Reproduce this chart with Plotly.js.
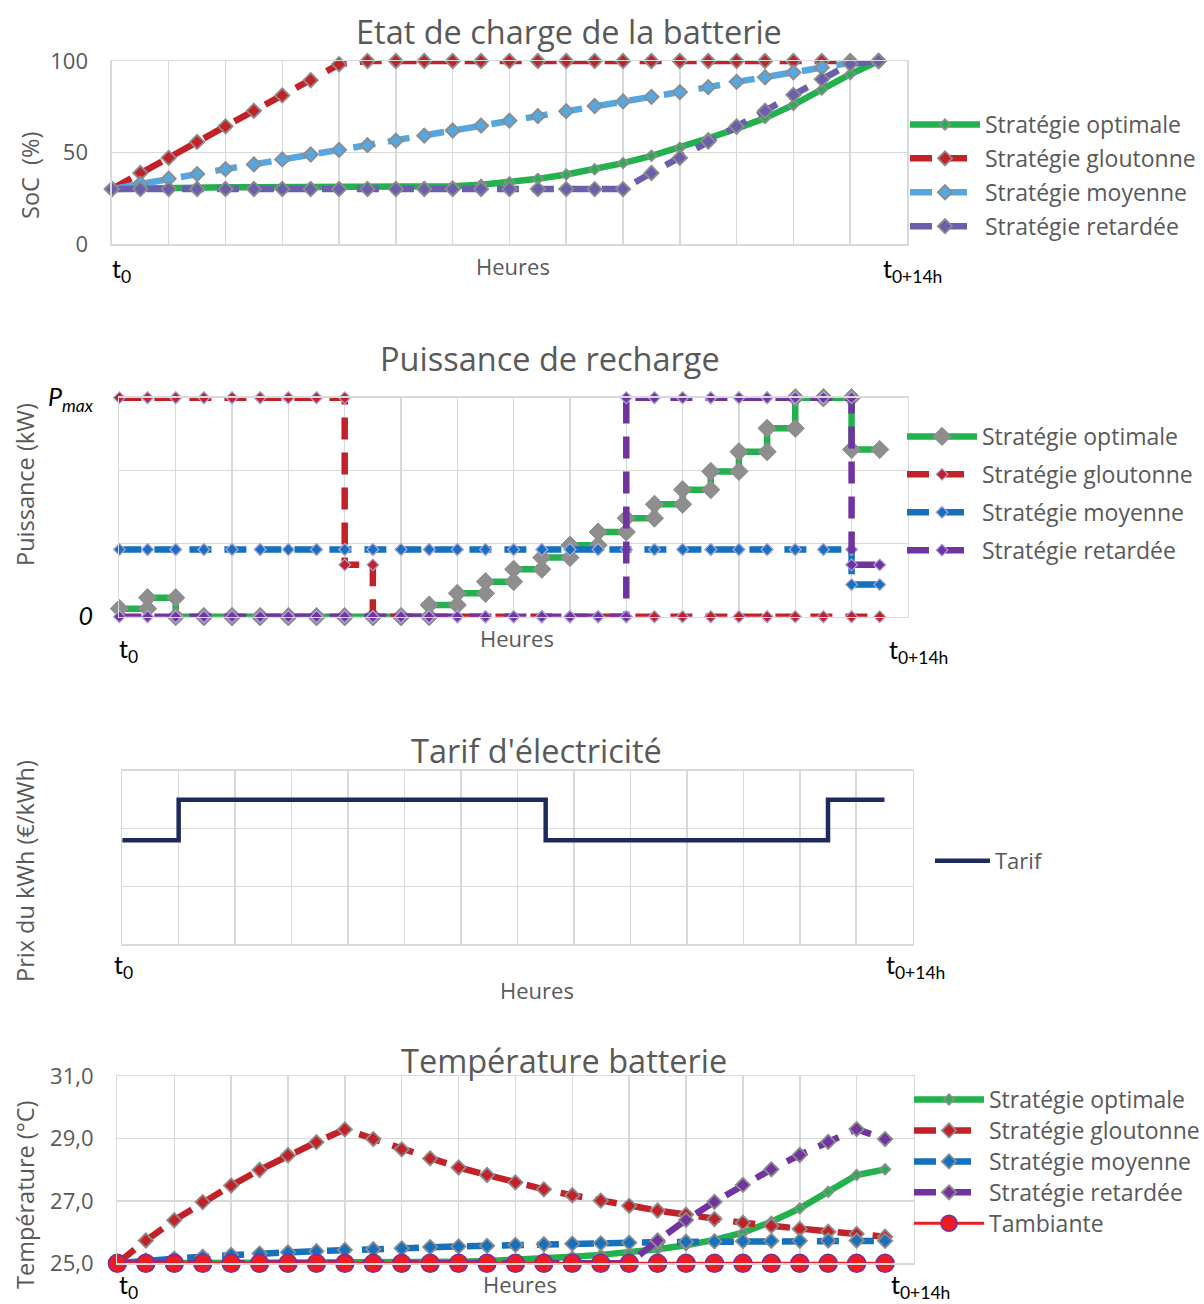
<!DOCTYPE html>
<html><head><meta charset="utf-8">
<script src="https://cdn.plot.ly/plotly-3.0.1.min.js"></script>
<style>html,body{margin:0;padding:0;background:#fff;overflow:hidden}</style>
</head><body><div id="chart" style="width:1204px;height:1304px"></div>
<script>
// ---- Time axis (hours after t0) ----
const hours = [0,0.5,1,1.5,2,2.5,3,3.5,4,4.5,5,5.5,6,6.5,7,7.5,8,8.5,9,9.5,10,10.5,11,11.5,12,12.5,13,13.5];

// ---- Etat de charge (SoC %) ----
const socOptimale  = [30,30.3,31,31,31,31,31,31,31,31,31,31.1,31.5,32.4,33.7,35.6,38.0,40.8,44.2,48.2,52.6,57.8,63.0,68.8,76.0,84.4,92.8,100];
const socGloutonne = [30,38.8,47.1,55.8,64.3,72.8,81.2,89.5,98.2,100,100,100,100,100,100,100,100,100,100,100,100,100,100,100,100,100,100,100];
const socMoyenne   = [30,33.0,35.7,38.2,40.9,43.5,46.2,48.9,51.4,54.0,56.5,59.2,62.0,64.7,67.4,69.9,72.6,75.4,77.9,80.4,83.0,85.7,88.6,91.1,93.8,96.4,99.0,100];
const socRetardee  = [30,30,30,30,30,30,30,30,30,30,30,30,30,30,30,30,30,30,30,38.8,47.1,56.0,64.3,72.8,81.5,90.0,98.4,100];

// ---- Puissance de recharge (per half-hour interval, Pmax = 3) ----
const pOptimale  = [0.11,0.26,0,0,0,0,0,0,0,0,0,0.16,0.32,0.48,0.65,0.81,0.98,1.16,1.35,1.54,1.74,1.99,2.26,2.58,3,3,2.29];
const pGloutonne = [3,3,3,3,3,3,3,3,0.71,0,0,0,0,0,0,0,0,0,0,0,0,0,0,0,0,0,0];
const pMoyenne   = [0.92,0.92,0.92,0.92,0.92,0.92,0.92,0.92,0.92,0.92,0.92,0.92,0.92,0.92,0.92,0.92,0.92,0.92,0.92,0.92,0.92,0.92,0.92,0.92,0.92,0.92,0.44];
const pRetardee  = [0,0,0,0,0,0,0,0,0,0,0,0,0,0,0,0,0,0,3,3,3,3,3,3,3,3,0.71];
const pTickVals  = [0,1,2,3];
const pTickText  = ['<i>0</i>','','','<i>P<sub>max</sub></i>'];

// ---- Tarif d'électricité ----
const tarifHeures  = [0,1,7.5,12.5,13.5];
const tarifValeurs = [0.18,0.25,0.18,0.25,0.25];

// ---- Température batterie (°C) ----
const tOptimale  = [25,25,25,25,25,25,25,25,25,25,25.02,25.04,25.05,25.07,25.10,25.16,25.21,25.27,25.34,25.45,25.58,25.75,25.98,26.33,26.76,27.29,27.83,28.01];
const tGloutonne = [25,25.73,26.38,26.96,27.49,27.99,28.46,28.88,29.29,28.98,28.65,28.36,28.07,27.83,27.59,27.37,27.18,27.01,26.84,26.69,26.56,26.42,26.30,26.20,26.10,26.01,25.94,25.85];
const tMoyenne   = [25,25.09,25.15,25.21,25.27,25.31,25.35,25.39,25.43,25.45,25.48,25.52,25.54,25.56,25.59,25.61,25.63,25.64,25.66,25.68,25.69,25.70,25.71,25.72,25.72,25.73,25.73,25.72];
const tRetardee  = [25,25,25,25,25,25,25,25,25,25,25,25,25,25,25,25,25,25,25,25.73,26.39,26.97,27.51,28.01,28.47,28.89,29.30,28.98];
const tAmbiante  = [25,25,25,25,25,25,25,25,25,25,25,25,25,25,25,25,25,25,25,25,25,25,25,25,25,25,25,25];
const tTickVals  = [25,27,29,31];

const names = ['Stratégie optimale','Stratégie gloutonne','Stratégie moyenne','Stratégie retardée'];

// ---- styles ----
const FONT = '"Open Sans", Lato, sans-serif';
const TFONT = 'Lato, "Open Sans", sans-serif';
const GRAY = '#595959', GRID = '#D9D9D9', MOUT = '#8C8C8C';
const GREEN = '#22B14C', RED = '#C22127', LBLUE = '#56A6E0', SPURP = '#6A5FAD', BLUE = '#1570BD', PURP = '#7133A0', NAVY = '#1F2A5C';
const DASH = '22px,13px';
const LW = 6.5;

function steps(times, vals){
  const x = [], y = [];
  for (let i = 0; i < vals.length; i++){ x.push(times[i], times[i+1]); y.push(vals[i], vals[i]); }
  return {x, y};
}

function sc(x, y, name, color, dash, mk, ax, leg, extra){
  return Object.assign({
    type:'scatter', mode:'lines+markers', x:x, y:y, name:name,
    line:{color:color, width:LW, dash:dash},
    marker:mk, xaxis:'x'+ax, yaxis:'y'+ax, legend:leg, legendgroup:leg+name, cliponaxis:false
  }, extra||{});
}
const dm = (c, s, oc, ow) => ({symbol:'diamond', color:c, size:s||11, line:{color:oc||MOUT, width:ow===undefined?1.8:ow}});
const big = n => '<span style="font-size:23px">' + n + '</span>';

const traces = [];
// Chart 1
traces.push(sc(hours, socOptimale,  names[0], GREEN, 'solid', dm(GREEN,8), '', 'legend'));
traces.push(sc(hours, socGloutonne, names[1], RED,   DASH,    dm(RED),     '', 'legend'));
traces.push(sc(hours, socMoyenne,   names[2], LBLUE, DASH,    dm(LBLUE),   '', 'legend'));
traces.push(sc(hours, socRetardee,  names[3], SPURP, DASH,    dm(SPURP),   '', 'legend'));
// Chart 2
const sO = steps(hours, pOptimale), sG = steps(hours, pGloutonne), sM = steps(hours, pMoyenne), sR = steps(hours, pRetardee);
const LAV = '#A9A1DA';
traces.push(sc(sO.x, sO.y, names[0], GREEN, 'solid', dm('#8E8E8E',14,'#8E8E8E',1), '2', 'legend2'));
traces.push(sc(sG.x, sG.y, names[1], RED,   DASH,    dm(RED,9,LAV,1.2),  '2', 'legend2'));
traces.push(sc(sM.x, sM.y, names[2], BLUE,  DASH,    dm(BLUE,9,LAV,1.2), '2', 'legend2'));
traces.push(sc(sR.x, sR.y, names[3], PURP,  DASH,    dm(PURP,9,LAV,1.2), '2', 'legend2'));
// Chart 3
traces.push({type:'scatter', mode:'lines', x:tarifHeures, y:tarifValeurs, name:'Tarif',
  line:{color:NAVY, width:4.5, shape:'hv'}, xaxis:'x3', yaxis:'y3', legend:'legend3', cliponaxis:false});
// Chart 4
traces.push(sc(hours, tOptimale,  big(names[0]), GREEN, 'solid', dm(GREEN,8),  '4', 'legend4'));
traces.push(sc(hours, tGloutonne, big(names[1]), RED,   DASH,    dm(RED),      '4', 'legend4'));
traces.push(sc(hours, tMoyenne,   big(names[2]), BLUE,  DASH,    dm(BLUE),     '4', 'legend4'));
traces.push(sc(hours, tRetardee,  big(names[3]), PURP,  DASH,    dm(PURP),     '4', 'legend4'));
traces.push(sc(hours, tAmbiante, big('Tambiante'), '#ED1C24', 'solid',
  {symbol:'circle', color:'#ED1C24', size:18, line:{color:PURP, width:1.5}}, '4', 'legend4', {line:{color:'#ED1C24', width:3}}));

// ---- layout helpers ----
const H = 1304, W = 1204;
const px = v => v / W, py = v => 1 - v / H;
function xax(l, r, anchor){
  return {domain:[px(l), px(r)], anchor:anchor, range:[0,14], dtick:1, tick0:0, showticklabels:false, showgrid:true,
    gridcolor:GRID, gridwidth:1.5, zeroline:false, showline:true, mirror:true, linecolor:GRID, linewidth:1.5, ticks:'', fixedrange:true};
}
function yax(top, bot, anchor, extra){
  return Object.assign({domain:[py(bot), py(top)], anchor:anchor, showgrid:true, gridcolor:GRID, gridwidth:1.5, zeroline:false,
    showline:true, mirror:true, linecolor:GRID, linewidth:1.5, ticks:'', ticklabelstandoff:18,
    tickfont:{family:FONT, size:22, color:GRAY}, fixedrange:true}, extra);
}
function ann(text, x, y, size, color, extra){
  return Object.assign({text:text, x:px(x), y:py(y), xref:'paper', yref:'paper', showarrow:false,
    xanchor:'center', yanchor:'middle', font:{family:FONT, size:size, color:color}}, extra||{});
}
function leg(x, top, gap, size, iw){
  return {x:px(x), y:py(top), xanchor:'left', yanchor:'top', bgcolor:'rgba(0,0,0,0)',
    font:{family:FONT, size:size, color:GRAY}, itemwidth:iw||70, tracegroupgap:gap, traceorder:'grouped'};
}
const tl = (text, x, y, extra) => ann(text, x, y, 25, '#000', Object.assign({font:{family:TFONT, size:25, color:'#000'}}, extra||{}));
const TS = 32.5, YS = 23.5;

const layout = {
  width:W, height:H, margin:{l:0, r:0, t:0, b:0, autoexpand:false}, paper_bgcolor:'#fff', plot_bgcolor:'#fff',
  separators:', ', showlegend:true, font:{family:FONT, color:GRAY},
  xaxis: xax(111.9, 907, 'y'), yaxis: yax(61, 244, 'x', {range:[0,100], dtick:50}),
  xaxis2: xax(119.4, 907.9, 'y2'), yaxis2: yax(397.7, 616.7, 'x2', {range:[0,3], tickvals:pTickVals, ticktext:pTickText,
    ticklabelstandoff:20, tickfont:{family:TFONT, size:25, color:'#000'}}),
  xaxis3: xax(122.2, 912.7, 'y3'), yaxis3: yax(770.7, 944.3, 'x3', {range:[0,0.3], dtick:0.1, showticklabels:false}),
  xaxis4: xax(117.4, 913.5, 'y4'), yaxis4: yax(1076, 1263.3, 'x4', {range:[25,31], tickvals:tTickVals, tickformat:'.1f'}),
  legend: leg(905, 103, 1, 23),
  legend2: leg(902, 415, 5, 23),
  legend3: leg(930, 840, 0, 22, 55),
  legend4: leg(909, 1079, 0, 21.5),
  annotations: [
    ann('Etat de charge de la batterie', 569, 31, TS, GRAY),
    ann('Puissance de recharge', 550, 358, TS, GRAY),
    ann("Tarif d'électricité", 536, 750, TS, GRAY),
    ann('Température batterie', 564, 1060, TS, GRAY),
    ann('SoC  (%)', 30, 176, YS, GRAY, {textangle:-90}),
    ann('Puissance (kW)', 25, 485, YS, GRAY, {textangle:-90}),
    ann('Prix du kWh (€/kWh)', 25, 871, YS, GRAY, {textangle:-90}),
    ann('Température (°C)', 25, 1195, YS, GRAY, {textangle:-90}),
    ann('Heures', 513, 266, 22, GRAY),
    ann('Heures', 517, 638, 22, GRAY),
    ann('Heures', 537, 990, 22, GRAY),
    ann('Heures', 520, 1284, 22, GRAY),
    tl('t<sub>0</sub>', 110, 270, {xanchor:'left'}),
    tl('t<sub>0+14h</sub>', 912, 270),
    tl('t<sub>0</sub>', 117, 650, {xanchor:'left'}),
    tl('t<sub>0+14h</sub>', 918, 651),
    tl('t<sub>0</sub>', 112, 966, {xanchor:'left'}),
    tl('t<sub>0+14h</sub>', 915, 966),
    tl('t<sub>0</sub>', 117, 1286, {xanchor:'left'}),
    tl('t<sub>0+14h</sub>', 920, 1286)
  ]
};

Plotly.newPlot('chart', traces, layout, {displayModeBar:false, staticPlot:true});
</script>
</body></html>
